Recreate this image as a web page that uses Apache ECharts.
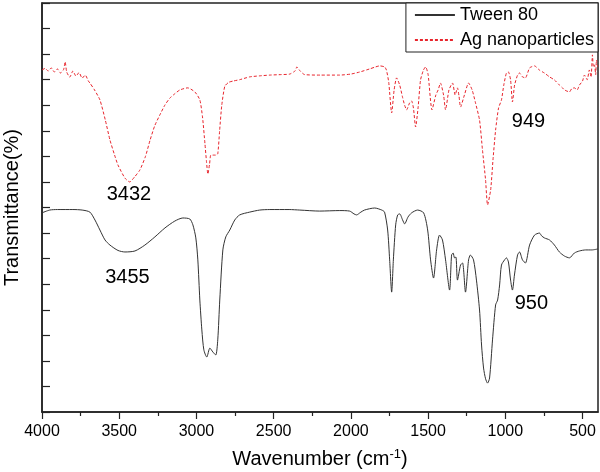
<!DOCTYPE html>
<html><head><meta charset="utf-8">
<script src="https://cdn.jsdelivr.net/npm/echarts@6/dist/echarts.min.js"></script>
<style>html,body{margin:0;padding:0;background:#fff}#c{width:600px;height:472px}</style>
</head><body><div id="c"></div>
<script>
const majorTicks = [4000,3500,3000,2500,2000,1500,1000,500];
const minorTicks = [3750,3250,2750,2250,1750,1250,750];

const tweenWn = [4000,3950,3900,3800,3740,3690,3657,3625,3592,3560,3508,3463,3398,3334,3269,3204,3140,3088,3043,3023,3004,2991,2978,2965,2952,2933,2913,2894,2875,2862,2849,2829,2810,2784,2752,2720,2655,2590,2525,2400,2331,2202,2072,2008,1980,1963,1940,1912,1846,1800,1782,1762,1749,1736,1725,1710,1697,1684,1665,1652,1630,1607,1568,1529,1503,1484,1465,1445,1426,1407,1387,1361,1348,1338,1329,1320,1310,1290,1277,1258,1238,1226,1206,1187,1167,1154,1141,1128,1115,1102,1083,1063,1050,1037,1025,1005,993,980,966,954,941,921,908,889,870,843,811,779,765,747,714,682,650,617,585,553,520,480,440,400];
const tweenT = [7.79,7.90,7.92,7.92,7.90,7.82,7.51,7.12,6.73,6.53,6.32,6.26,6.30,6.53,6.85,7.20,7.47,7.59,7.55,7.32,6.81,5.95,4.38,3.21,2.43,2.15,2.50,2.35,2.23,2.82,4.38,6.34,6.85,7.12,7.51,7.71,7.82,7.90,7.92,7.92,7.90,7.86,7.88,7.86,7.75,7.71,7.80,7.90,7.98,7.90,7.82,7.12,5.95,4.69,5.95,7.32,7.71,7.75,7.51,7.36,7.63,7.79,7.90,7.79,7.12,5.95,5.24,6.34,6.92,6.73,5.95,4.77,6.14,6.22,6.03,6.06,5.16,5.75,5.83,4.69,5.95,6.14,5.95,5.16,3.99,2.62,1.72,1.30,1.13,1.33,2.82,4.19,4.38,4.97,5.75,5.95,6.03,5.87,5.16,4.77,5.36,6.14,6.26,5.95,5.83,6.53,6.92,7.00,6.89,6.81,6.73,6.53,6.26,6.10,6.03,6.22,6.30,6.34,6.34,6.38];

const agWn = [4000,3980,3960,3940,3920,3900,3880,3860,3850,3840,3820,3800,3780,3760,3740,3720,3700,3690,3660,3625,3590,3560,3530,3508,3463,3432,3400,3366,3330,3300,3270,3237,3205,3172,3140,3107,3056,3010,2978,2960,2945,2935,2926,2915,2907,2890,2875,2862,2850,2836,2816,2790,2760,2720,2655,2590,2525,2450,2396,2360,2350,2330,2300,2200,2072,2000,1943,1879,1840,1814,1782,1770,1755,1736,1720,1704,1684,1665,1652,1639,1620,1607,1595,1581,1565,1549,1530,1516,1500,1475,1450,1435,1420,1400,1387,1365,1342,1325,1310,1300,1290,1265,1238,1215,1193,1167,1148,1128,1115,1095,1080,1063,1044,1025,1010,993,980,966,954,940,921,908,889,870,843,811,780,747,714,682,650,630,617,600,585,570,553,535,520,500,488,470,456,445,436,430,423,415,410,402];
const agT = [13.38,13.44,13.34,13.46,13.30,13.42,13.26,13.40,13.70,13.30,13.10,13.34,13.14,13.28,13.06,13.18,12.95,12.87,12.60,12.21,11.42,10.64,10.05,9.66,9.15,9.00,9.20,9.47,10.00,10.64,11.20,11.62,12.00,12.28,12.45,12.60,12.68,12.52,12.21,11.50,10.50,9.80,9.31,9.70,10.05,10.05,10.05,10.10,11.00,12.00,12.75,12.90,12.95,13.00,13.11,13.15,13.18,13.20,13.22,13.35,13.50,13.35,13.20,13.18,13.18,13.22,13.30,13.42,13.50,13.54,13.50,13.38,12.90,11.70,12.60,13.07,12.79,12.30,12.00,11.82,12.09,12.17,11.89,11.15,11.90,12.99,13.38,13.50,13.20,11.82,12.40,12.60,12.87,12.40,11.82,12.60,12.87,12.40,12.68,12.36,11.93,12.40,12.87,12.60,12.09,11.42,10.25,9.08,8.10,8.69,9.86,11.03,11.89,12.21,12.79,13.26,13.30,12.99,12.13,12.79,13.18,13.26,13.11,13.07,13.46,13.54,13.38,13.26,13.11,12.99,12.79,12.68,12.60,12.55,12.52,12.65,12.68,12.60,12.79,12.95,13.18,13.00,13.38,13.10,13.97,13.50,13.58,13.20,13.77,13.50];

const annoText = ['3432','3455','949','950'];
const annoWn = [3437,3447,850,831];
const annoT = [8.49,5.26,11.38,4.23];

const FONT = "'Liberation Sans', Arial, sans-serif";
const toPts = (wn, t) => wn.map((w, i) => [-w, t[i]]);

const chart = echarts.init(document.getElementById('c'), null, {renderer: 'canvas'});
chart.setOption({
  animation: false,
  backgroundColor: '#fff',
  textStyle: {fontFamily: FONT, color: '#000'},
  grid: {left: 42, right: 2, top: 3, bottom: 60, containLabel: false, outerBoundsMode: 'none',
         show: true, borderColor: '#222', borderWidth: 1.5, backgroundColor: 'transparent'},
  legend: {
    orient: 'vertical', right: 2, top: 3, itemWidth: 40, itemHeight: 14, itemGap: 7,
    padding: [3, 4, 3, 8], borderColor: '#222', borderWidth: 1, backgroundColor: '#fff',
    itemStyle: {opacity: 0},
    textStyle: {fontFamily: FONT, fontSize: 18, color: '#000'},
    data: ['Tween 80', 'Ag nanoparticles']
  },
  xAxis: [{
    type: 'value', min: -4000, max: -400, interval: 500,
    axisLine: {lineStyle: {color: '#222', width: 1.5}},
    axisTick: {show: true, inside: false, length: 7, customValues: majorTicks.map(v => -v), lineStyle: {color: '#222', width: 1.2}},
    axisLabel: {customValues: majorTicks.map(v => -v), formatter: v => String(-v), fontSize: 16, color: '#000', margin: 12, fontFamily: FONT},
    splitLine: {show: false},
    name: 'Wavenumber (cm{sup|-1})', nameLocation: 'middle', nameGap: 36,
    nameTextStyle: {fontSize: 20, color: '#000', fontFamily: FONT, rich: {sup: {fontSize: 13, color: '#000', fontFamily: FONT, padding: [0, 0, 10, 0]}}}
  }, {
    type: 'value', min: -4000, max: -400, position: 'bottom', gridIndex: 0,
    axisLine: {show: false},
    axisTick: {show: true, inside: false, length: 4, customValues: minorTicks.map(v => -v), lineStyle: {color: '#222', width: 1.2}},
    axisLabel: {show: false}, splitLine: {show: false}
  }],
  yAxis: {
    type: 'value', min: 0, max: 16, interval: 1,
    axisLine: {show: true, lineStyle: {color: '#222', width: 1.5}},
    axisTick: {show: true, inside: true, length: 8, lineStyle: {color: '#222', width: 1.2}},
    axisLabel: {show: false}, splitLine: {show: false},
    name: 'Transmittance(%)', nameLocation: 'middle', nameGap: 20, nameRotate: 90,
    nameTextStyle: {fontSize: 20, color: '#000', fontFamily: FONT}
  },
  series: [{
    name: 'Tween 80', type: 'line', xAxisIndex: 0, showSymbol: false, symbol: 'none', smooth: 0.25,
    lineStyle: {color: '#333', width: 1}, itemStyle: {color: '#333'},
    data: toPts(tweenWn, tweenT),
    markPoint: {
      symbol: 'circle', symbolSize: 1, itemStyle: {color: 'rgba(0,0,0,0)'},
      label: {show: true, position: 'inside', formatter: p => p.name, fontSize: 20, color: '#000', fontFamily: FONT},
      data: annoText.map((t, i) => ({name: t, coord: [-annoWn[i], annoT[i]]}))
    }
  }, {
    name: 'Ag nanoparticles', type: 'line', xAxisIndex: 0, showSymbol: false, symbol: 'none', smooth: 0.2,
    lineStyle: {color: '#e8242c', width: 1, type: [3, 2]}, itemStyle: {color: '#e8242c'},
    data: toPts(agWn, agT)
  }]
});
</script>
</body></html>
